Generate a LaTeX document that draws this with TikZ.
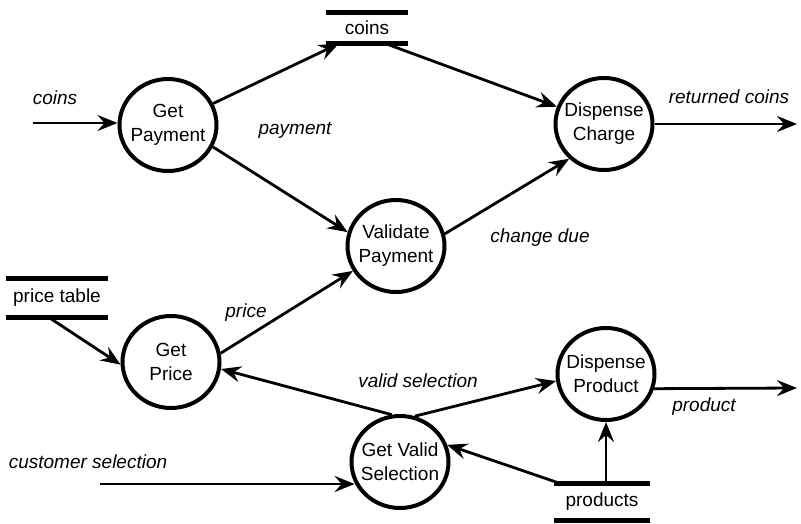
\documentclass[tikz,border=0pt]{standalone}
\usepackage{fontspec}
\setmainfont{Liberation Sans}
\usetikzlibrary{arrows.meta,shapes.geometric,calc}
\begin{document}
\begin{tikzpicture}[x=1pt,y=-1pt,
  proc/.style={ellipse, draw, line width=4pt, minimum width=97pt,
    minimum height=92pt, inner xsep=-8pt, inner ysep=0pt, align=center,
    font=\fontsize{19}{24}\selectfont},
  store/.style={inner sep=0pt, font=\fontsize{19}{24}\selectfont},
  storeline/.style={line width=5pt},
  flow/.style={line width=2.8pt, -{Stealth[length=20pt,width=16pt,inset=7pt]}},
  lbl/.style={font=\fontsize{19}{24}\selectfont\itshape, inner sep=0pt}]
\useasboundingbox (0,0) rectangle (801,524);

% processes
\node[proc] (gp) at (168,125) {Get\\Payment};
\node[proc] (vp) at (396,246) {Validate\\Payment};
\node[proc] (dc) at (604,124) {Dispense\\Charge};
\node[proc] (gr) at (171,362) {Get\\Price};
\node[proc] (dp) at (606,374) {Dispense\\Product};
\node[proc] (gv) at (400,462) {Get Valid\\Selection};

% data stores
\node[store, minimum width=82pt, minimum height=31pt] (cs) at (367,28) {coins};
\node[store, minimum width=101pt, minimum height=39pt] (pt) at (57,298) {price table};
\node[store, minimum width=96pt, minimum height=37pt] (ps) at (602,502) {products};
\foreach \s in {cs,pt,ps}{
  \draw[storeline] (\s.north west) -- (\s.north east);
  \draw[storeline] (\s.south west) -- (\s.south east);
}

% free ends and store ports
\coordinate (cin) at (33,123);
\coordinate (rout) at (797,124);
\coordinate (pout) at (797,388);
\coordinate (csel) at (100,484);
\coordinate (csA) at ($(cs.south west)+(13,0)$);
\coordinate (csB) at ($(cs.south west)+(60,0)$);
\coordinate (ptA) at ($(pt.south west)+(43,0)$);
\coordinate (psA) at ($(ps.north west)+(6,0)$);

% flows
\draw[flow] (cin) -- (cin -| gp.west);
\draw[flow] (gp) -- (csA);
\draw[flow] (csB) -- (dc);
\draw[flow] (gp.-26) -- (vp.164);
\draw[flow] (vp.14) -- (dc.225);
\draw[flow] (dc.east) -- (rout);
\draw[flow] (ptA) -- (gr.183);
\draw[flow] (gr.10) -- (vp.210);
\draw[flow] (gv.100) -- (gr.-8);
\draw[flow] (gv.72) -- (dp.188);
\draw[flow] (psA) -- (gv.20);
\draw[flow] (ps.north -| dp.south) -- (dp.south);
\draw[flow] (dp.-17) -- (pout);
\draw[flow] (csel) -- (csel -| gv.205);

% flow labels
\node[lbl] (l1) at (55,98) {coins};
\node[lbl] (l2) at (295,130) {payment};
\node[lbl] (l3) at (729,97) {returned coins};
\node[lbl] (l4) at (540,238) {change due};
\node[lbl] (l5) at (246,313) {price};
\node[lbl] (l6) at (418,381) {valid selection};
\node[lbl] (l7) at (704,407) {product};
\node[lbl] (l8) at (88,462) {customer selection};
\end{tikzpicture}
\end{document}
